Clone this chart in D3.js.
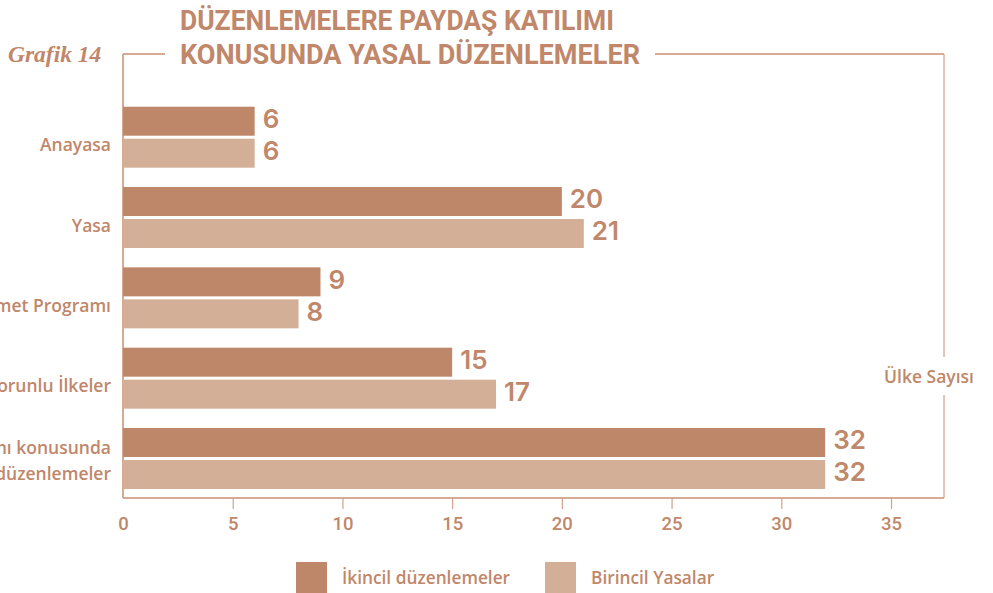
<!DOCTYPE html>
<html><head><meta charset="utf-8">
<script src="https://cdn.jsdelivr.net/npm/d3@7"></script>
<style>
html,body{margin:0;padding:0;background:#fff;}
svg{display:block;}
</style></head>
<body>
<svg id="chart" width="993" height="593"></svg>
<script>
const categories = ["Anayasa", "Yasa", "Hükümet Programı", "Zorunlu İlkeler", "Paydaş katılımı konusunda|özel düzenlemeler"];
const seriesNames = ["İkincil düzenlemeler", "Birincil Yasalar"];
const ikincil = [6, 20, 9, 15, 32];
const birincil = [6, 21, 8, 17, 32];
const xTicks = [0, 5, 10, 15, 20, 25, 30, 35];
const titleLines = ["DÜZENLEMELERE PAYDAŞ KATILIMI", "KONUSUNDA YASAL DÜZENLEMELER"];
const chartLabel = "Grafik 14";
const axisTitle = "Ülke Sayısı";

const colors = ["#bf8769", "#d4af98"];
const textColor = "#c0876a";

const svg = d3.select("#chart");
const fLeft = 123, fRight = 944, fTop = 54, fBottom = 498;

const x = d3.scaleLinear().domain([0, 35]).range([123, 891]);
const y = d3.scaleBand().domain(categories).range([106.7, 489]).paddingInner(0.2407).paddingOuter(0);
const ys = d3.scaleBand().domain(seriesNames).range([0, y.bandwidth()]).paddingInner(3/32).paddingOuter(0);

const data = categories.map((c, i) => ({cat: c, vals: [ikincil[i], birincil[i]]}));

// Frame
svg.append("line").attr("x1", fLeft).attr("x2", fLeft).attr("y1", fTop).attr("y2", fBottom).attr("stroke", "#c98f71").attr("stroke-width", 1.5);
svg.append("line").attr("x1", fLeft).attr("x2", 165).attr("y1", fTop).attr("y2", fTop).attr("stroke", "#c98f71").attr("stroke-width", 1.5);
svg.append("line").attr("x1", 655).attr("x2", fRight).attr("y1", fTop).attr("y2", fTop).attr("stroke", "#c98f71").attr("stroke-width", 1.5);
svg.append("line").attr("x1", fRight).attr("x2", fRight).attr("y1", fTop).attr("y2", 357).attr("stroke", "#d8b29f").attr("stroke-width", 1.5);
svg.append("line").attr("x1", fRight).attr("x2", fRight).attr("y1", 395).attr("y2", fBottom).attr("stroke", "#d8b29f").attr("stroke-width", 1.5);

// Bars
const g = svg.append("g");
const groups = g.selectAll("g.cat").data(data).join("g").attr("class", "cat")
  .attr("transform", d => `translate(0,${y(d.cat)})`);
groups.selectAll("rect").data(d => d.vals.map((v, j) => ({v, s: seriesNames[j], j})))
  .join("rect")
  .attr("x", x(0))
  .attr("y", d => ys(d.s))
  .attr("width", d => x(d.v) - x(0))
  .attr("height", ys.bandwidth())
  .attr("fill", d => colors[d.j]);
groups.selectAll("text.val").data(d => d.vals.map((v, j) => ({v, s: seriesNames[j], j})))
  .join("text").attr("class", "val")
  .attr("x", d => x(d.v) + 8)
  .attr("y", d => ys(d.s) + ys.bandwidth() / 2)
  .attr("dy", "0.26em")
  .attr("fill", textColor)
  .attr("font-family", "Inter, 'DejaVu Sans', sans-serif")
  .attr("font-weight", 600)
  .attr("font-size", 26)
  .text(d => d.v);

// Category labels
groups.each(function(d) {
  const lines = d.cat.split("|");
  const t = d3.select(this).append("text")
    .attr("text-anchor", "end")
    .attr("fill", textColor)
    .attr("font-family", "'Open Sans', sans-serif")
    .attr("font-weight", 600)
    .attr("font-size", 17.5);
  const cy = y.bandwidth() / 2;
  if (lines.length === 1) {
    t.append("tspan").attr("x", 111).attr("y", cy + 8).attr("dy", "0.35em").text(lines[0]);
  } else {
    lines.forEach((l, k) => {
      t.append("tspan").attr("x", 111).attr("y", cy + 2 + (k - 0.5) * 26).attr("dy", "0.35em").text(l);
    });
  }
});

// X axis
const xAxis = d3.axisBottom(x).tickValues(xTicks).tickSize(11).tickPadding(8);
const ax = svg.append("g").attr("transform", `translate(0,${fBottom})`).call(xAxis);
ax.select(".domain").attr("d", `M${fLeft},0H${fRight}`).attr("stroke", "#c98f71").attr("stroke-width", 1.5);
ax.selectAll(".tick line").attr("stroke", "#d0a08a").attr("stroke-width", 1.2)
  .attr("opacity", d => d === 0 ? 0 : 1);
ax.selectAll(".tick text").attr("fill", textColor)
  .attr("font-family", "Roboto, sans-serif").attr("font-weight", 500).attr("font-size", 18.5);

// Axis title
svg.append("text").attr("x", 929).attr("y", 377).attr("dy", "0.35em").attr("text-anchor", "middle")
  .attr("fill", textColor).attr("font-family", "'Open Sans', sans-serif").attr("font-weight", 600)
  .attr("font-size", 17.5).text(axisTitle);

// Title
svg.append("text").attr("x", 180).attr("y", 30).attr("textLength", 434).attr("lengthAdjust", "spacingAndGlyphs")
  .attr("fill", textColor).attr("font-family", "Roboto, sans-serif").attr("font-weight", 700)
  .attr("font-size", 27).text(titleLines[0]);
svg.append("text").attr("x", 180).attr("y", 64).attr("textLength", 460).attr("lengthAdjust", "spacingAndGlyphs")
  .attr("fill", textColor).attr("font-family", "Roboto, sans-serif").attr("font-weight", 700)
  .attr("font-size", 27).text(titleLines[1]);
svg.append("text").attr("x", 8).attr("y", 62)
  .attr("fill", textColor).attr("font-family", "'Liberation Serif', serif").attr("font-style", "italic").attr("font-weight", 700)
  .attr("font-size", 23.5).text(chartLabel);

// Legend
const legX = [296, 545];
const leg = svg.append("g").selectAll("g").data(seriesNames).join("g")
  .attr("transform", (d, i) => `translate(${legX[i]},562)`);
leg.append("rect").attr("width", 31).attr("height", 31).attr("fill", (d, i) => colors[i]);
leg.append("text").attr("x", 46).attr("y", 16).attr("dy", "0.35em")
  .attr("fill", textColor).attr("font-family", "'Open Sans', sans-serif").attr("font-weight", 600)
  .attr("font-size", 17.3).text(d => d);
</script>
</body></html>
